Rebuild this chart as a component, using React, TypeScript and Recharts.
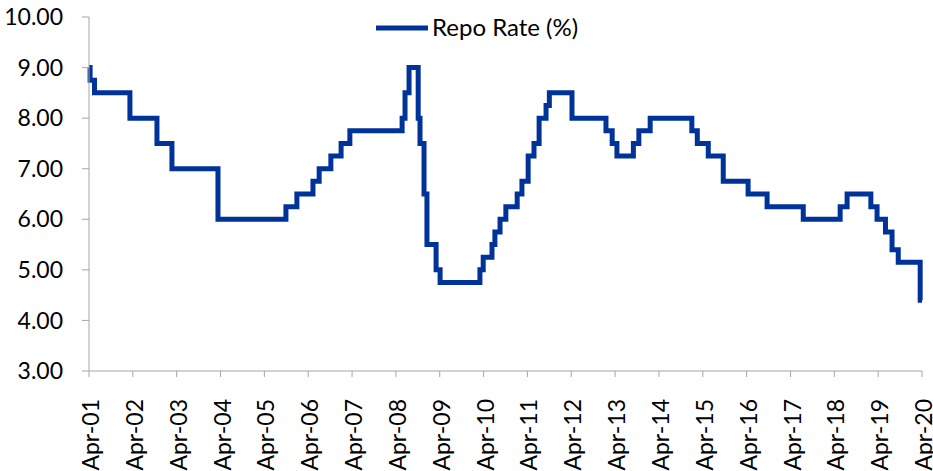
import React from "react";
import { LineChart, Line, XAxis, YAxis, Legend } from "recharts";

// months since Apr-01 where the repo rate changes
const months = [
  0, 0.3, 1.5, 11.2, 18.6, 22.7, 35.3, 53.9, 56.9, 61.3, 63.0, 66.2, 69.0, 71.4,
  85.7, 86.5, 87.6, 90.1, 90.6, 91.7, 92.5, 95.0, 96.1, 107.0, 107.9, 110.3,
  111.1, 112.5, 114.1, 117.2, 118.5, 120.2, 121.8, 123.2, 125.1, 126.0, 132.2,
  141.5, 143.2, 144.5, 149.0, 150.5, 153.6, 165.0, 166.5, 169.5, 173.6, 180.4,
  185.6, 195.5, 205.6, 207.5, 214.0, 215.7, 218.0, 219.8, 221.5, 227.5, 228,
];

const repoRate = [
  9.0, 8.75, 8.5, 8.0, 7.5, 7.0, 6.0, 6.25, 6.5, 6.75, 7.0, 7.25, 7.5, 7.75,
  8.0, 8.5, 9.0, 8.0, 7.5, 6.5, 5.5, 5.0, 4.75, 5.0, 5.25, 5.5,
  5.75, 6.0, 6.25, 6.5, 6.75, 7.25, 7.5, 8.0, 8.25, 8.5, 8.0,
  7.75, 7.5, 7.25, 7.5, 7.75, 8.0, 7.75, 7.5, 7.25, 6.75, 6.5,
  6.25, 6.0, 6.25, 6.5, 6.25, 6.0, 5.75, 5.4, 5.15, 4.4, 4.4,
];

const xTickMonths = [
  0, 12, 24, 36, 48, 60, 72, 84, 96, 108, 120, 132, 144, 156, 168, 180, 192,
  204, 216, 228,
];
const xTickLabels = [
  "Apr-01", "Apr-02", "Apr-03", "Apr-04", "Apr-05", "Apr-06", "Apr-07",
  "Apr-08", "Apr-09", "Apr-10", "Apr-11", "Apr-12", "Apr-13", "Apr-14",
  "Apr-15", "Apr-16", "Apr-17", "Apr-18", "Apr-19", "Apr-20",
];
const yTicks = [3, 4, 5, 6, 7, 8, 9, 10];

const data = months.map((m, i) => ({ m, rate: repoRate[i] }));

const FONT = "Lato, 'DejaVu Sans', sans-serif";
const BLUE = "#003399";
const AXIS = "#a6a6a6";

function RotatedTick(props: any) {
  const { x, y, payload } = props;
  const idx = xTickMonths.indexOf(payload.value);
  return (
    <g transform={`translate(${x + 2},${y + 20})`}>
      <text
        x={0}
        y={0}
        dy="0.35em"
        textAnchor="end"
        fill="#000"
        fontSize={23}
        fontFamily={FONT}
        transform="rotate(-90)"
      >
        {xTickLabels[idx]}
      </text>
    </g>
  );
}

function LegendBox() {
  return (
    <svg width={230} height={30}>
      <line x1={2} y1={15} x2={54} y2={15} stroke={BLUE} strokeWidth={5} />
      <text x={58} y={15} dy="0.35em" fontSize={24} fontFamily={FONT} fill="#000">
        Repo Rate (%)
      </text>
    </svg>
  );
}

const App = () => {
  return (
    <div style={{ position: "absolute", left: 0, top: 0 }}>
      <LineChart
        width={933}
        height={471}
        data={data}
        margin={{ top: 17, right: 11, bottom: 0, left: 0 }}
      >
        <XAxis
          dataKey="m"
          type="number"
          domain={[0, 228]}
          ticks={xTickMonths}
          interval={0}
          height={100}
          tickSize={6}
          stroke={AXIS}
          tick={<RotatedTick />}
        />
        <YAxis
          type="number"
          domain={[3, 10]}
          ticks={yTicks}
          width={89}
          tickSize={7}
          tickMargin={19}
          stroke={AXIS}
          tickFormatter={(v: number) => v.toFixed(2)}
          tick={{ fill: "#000", fontSize: 23, fontFamily: FONT }}
        />
        <Legend
          verticalAlign="middle"
          align="center"
          content={<LegendBox />}
          wrapperStyle={{ top: 13, left: 374, width: 230 }}
        />
        <Line
          dataKey="rate"
          name="Repo Rate (%)"
          type="stepAfter"
          stroke={BLUE}
          strokeWidth={5}
          dot={false}
          isAnimationActive={false}
        />
      </LineChart>
    </div>
  );
};

export default App;
